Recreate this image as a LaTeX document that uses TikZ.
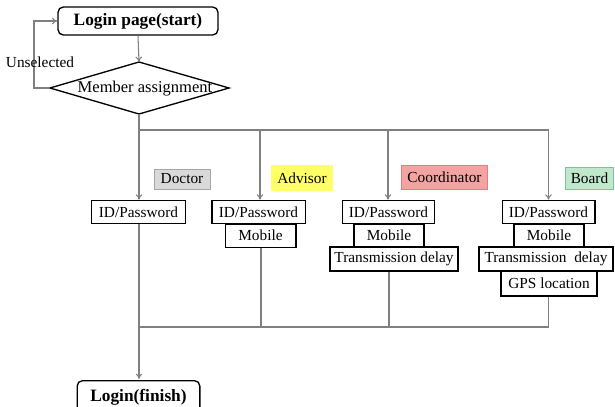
\documentclass[tikz,border=0pt]{standalone}
\usepackage{fontspec}
\setmainfont{Liberation Serif}
\usetikzlibrary{arrows.meta}
\definecolor{linegray}{HTML}{808080}
\definecolor{docfill}{HTML}{D9D9D9}
\definecolor{docline}{HTML}{A6A6A6}
\definecolor{advfill}{HTML}{FFFF66}
\definecolor{coofill}{HTML}{F4A3A3}
\definecolor{cooline}{HTML}{E07F7F}
\definecolor{brdfill}{HTML}{BFE8CC}
\definecolor{brdline}{HTML}{80C496}
\begin{document}
\begin{tikzpicture}[x=0.75pt,y=-0.75pt,
  font=\fontsize{11.5}{13}\selectfont,
  conn/.style={draw=linegray, line width=0.8pt},
  arr/.style={conn, -{To[length=4pt,width=5pt]}},
  field/.style={draw=black, line width=1pt, fill=white, inner sep=0pt,
    minimum height=17.5pt},
  terminal/.style={draw=black, line width=1pt, rounded corners=4pt,
    inner sep=0pt, font=\fontsize{13}{15}\selectfont\bfseries},
  role/.style={inner sep=0pt, minimum height=18pt, line width=0.6pt}]
\useasboundingbox (0,0) rectangle (615,407);
\clip (0,0) rectangle (615,407);

% start / end terminals
\node[terminal, minimum width=120pt, minimum height=21pt] (start) at (138,21) {Login page(start)};
\node[terminal, minimum width=92pt, minimum height=26pt] (finish) at (138.5,398) {};
\node[font=\fontsize{13}{15}\selectfont\bfseries] (finishtxt) at (138.5,397) {Login(finish)};
\coordinate (fintop) at (138.5,379);

% decision diamond
\coordinate (dtop) at (139,62);
\coordinate (dbot) at (139,114);
\coordinate (dleft) at (50,88);
\coordinate (dright) at (229,88);
\draw[black, line width=1pt] (dtop) -- (dright) -- (dbot) -- (dleft) -- cycle;
\node[font=\fontsize{12.4}{14}\selectfont] (member) at (145,89) {Member assignment};

% unselected loop back to the start page
\coordinate (lb) at (34,88);
\coordinate (lt) at (34,21);
\draw[arr] (dleft) -- (lb) -- (lt) -- (start.west);
\node (unsel) at (40,62) {Unselected};
\draw[arr] (start.south) -- (dtop);

% distribution bus
\coordinate (bus0) at (139,130);
\coordinate (bus1) at (260,130);
\coordinate (bus2) at (388,130);
\coordinate (bus3) at (548.5,130);
\draw[conn] (dbot) -- (bus0) -- (bus3);

% role labels
\node[role, fill=docfill, draw=docline, minimum width=42pt, minimum height=15pt] (doctor) at (182,179) {Doctor};
\node[role, fill=advfill, minimum width=46.5pt, minimum height=19pt] (advisor) at (302,178) {Advisor};
\node[role, fill=coofill, draw=cooline, minimum width=65pt, minimum height=18.5pt] (coord) at (444.5,177.5) {Coordinator};
\node[role, fill=brdfill, draw=brdline, minimum width=36.5pt, minimum height=16.5pt] (board) at (589.5,178) {Board};

% doctor fields
\node[field, minimum width=70.5pt] (did) at (138.5,212) {ID/Password};
% advisor fields
\node[field, minimum width=53pt] (amob) at (260.5,235.5) {Mobile};
\node[field, minimum width=70pt] (aid) at (258.5,212) {ID/Password};
% coordinator fields
\node[field, minimum width=52.5pt] (cmob) at (389,235.5) {Mobile};
\node[field, minimum width=96pt, minimum height=18pt] (ctd) at (394,259) {Transmission delay};
\node[field, minimum width=69pt] (cid) at (388.5,212) {ID/Password};
% board fields
\node[field, minimum width=52.5pt] (bmob) at (549,235.5) {Mobile};
\node[field, minimum width=72pt, minimum height=18.5pt] (bgps) at (549,283.5) {GPS location};
\node[field, minimum width=100.5pt, minimum height=18pt] (btd) at (546,259) {Transmission\ \ delay};
\node[field, minimum width=69.5pt] (bid) at (548.5,212) {ID/Password};

% arrows into each role
\draw[arr] (bus0) -- (bus0 |- did.north);
\draw[arr] (bus1) -- (bus1 |- aid.north);
\draw[arr] (bus2) -- (bus2 |- cid.north);
\draw[arr] (bus3) -- (bus3 |- bid.north);

% collecting bus
\coordinate (col0) at (139,327);
\coordinate (col1) at (261,327);
\coordinate (col2) at (389,327);
\coordinate (col3) at (548.5,327);
\draw[conn] (did.south -| col0) -- (col0);
\draw[conn] (amob.south -| col1) -- (col1);
\draw[conn] (ctd.south -| col2) -- (col2);
\draw[conn] (bgps.south -| col3) -- (col3);
\draw[conn] (col0) -- (col3);
\draw[arr] (col0) -- (col0 |- fintop);
\end{tikzpicture}
\end{document}
